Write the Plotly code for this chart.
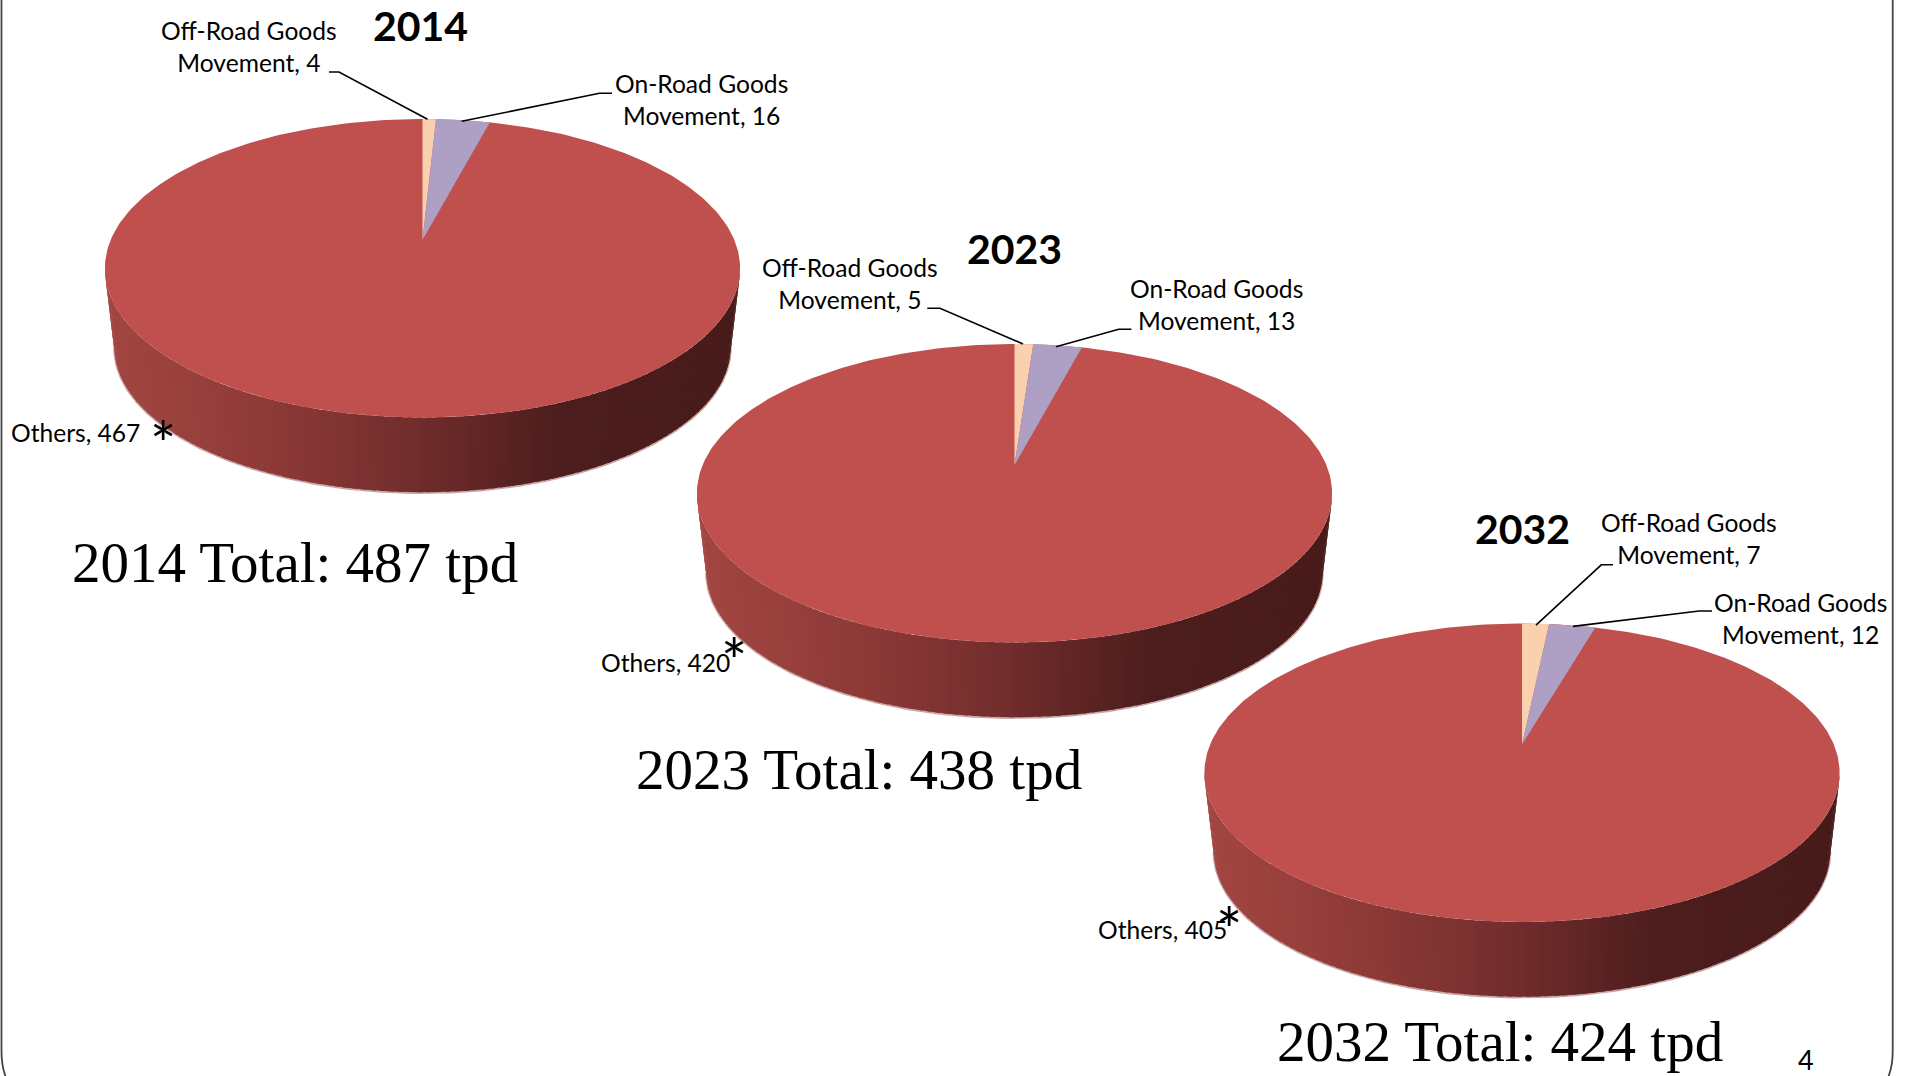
import numpy as np
import plotly.graph_objects as go

# ---- data ----
years = ["2014", "2023", "2032"]
totals = [487, 438, 424]
off_road = [4, 5, 7]
on_road = [16, 13, 12]
others = [467, 420, 405]

off_label = "Off-Road Goods<br>Movement, "
on_label = "On-Road Goods<br>Movement, "
others_label = "Others, "

# ---- colours ----
C_OTHERS = "#BF504D"
C_OFF = "#FAD0AE"
C_ON = "#AE9FC4"
C_RIM = "#C9A6A6"
SIDE_STOPS = [(0.0, (163, 70, 66)), (0.25, (142, 58, 55)), (0.5, (112, 44, 44)),
              (0.72, (76, 29, 29)), (1.0, (72, 27, 27))]

# ---- page-space layout of each pie ----
pies = [dict(cx=422.5, apex=240.0), dict(cx=1014.5, apex=465.0), dict(cx=1522.0, apex=744.5)]
UP, DOWN, HALF_W = 121.0, 177.5, 317.6   # apex-to-rim distances of the top face
DROP, SHRINK = 80.0, 0.97                # offset and scale of the lower rim

P = (DOWN - UP) / (DOWN + UP)
B = UP * (1 + P)
A = HALF_W * np.sqrt(1 - P * P)

SANS = "Lato"
SERIF = "Liberation Serif"


def rim(cx, apex, t, scale=1.0, drop=0.0):
    """Perspective projection of a point on the pie circle; t runs clockwise from 12 o'clock."""
    u, v = np.sin(t), np.cos(t)
    w = 1 + P * v
    return cx + scale * A * u / w, apex + drop - scale * B * v / w


def side_colour(q):
    q = float(np.clip(q, 0, 1))
    for (a, ca), (b, cb) in zip(SIDE_STOPS, SIDE_STOPS[1:]):
        if q <= b:
            f = (q - a) / (b - a)
            c = [round(x + (y - x) * f) for x, y in zip(ca, cb)]
            return f"rgb({c[0]},{c[1]},{c[2]})"
    return "rgb(72,27,27)"


fig = go.Figure()


def add_poly(xs, ys, colour, name):
    fig.add_trace(go.Scatter(x=list(xs), y=list(ys), mode="lines", fill="toself", fillcolor=colour,
                             line=dict(width=0, color=colour), hoverinfo="skip", name=name, showlegend=False))


def add_line(xs, ys, colour="#000000", width=1.6):
    fig.add_trace(go.Scatter(x=list(xs), y=list(ys), mode="lines", line=dict(color=colour, width=width),
                             hoverinfo="skip", showlegend=False))


def draw_pie(i):
    cx, apex = pies[i]["cx"], pies[i]["apex"]
    total = off_road[i] + on_road[i] + others[i]
    t0 = np.arccos(-P)
    # pale lower edge, under the wall
    ts = np.linspace(t0, 2 * np.pi - t0, 240)
    xb, yb = rim(cx, apex, ts, SHRINK, DROP)
    add_line(xb, yb + 0.6, C_RIM, 2.4)
    # side wall as shaded bands
    edges = np.linspace(t0, 2 * np.pi - t0, 111)
    left, right = cx - HALF_W, cx + HALF_W
    for a, b in zip(edges[:-1], edges[1:]):
        arc = np.linspace(a, b + (b - a) * 0.6, 4)
        xt, yt = rim(cx, apex, arc)
        xl, yl = rim(cx, apex, arc[::-1], SHRINK, DROP)
        q = (rim(cx, apex, (a + b) / 2)[0] - left) / (right - left)
        add_poly(np.r_[xt, xl], np.r_[yt, yl], side_colour(q), "side")
    # top face: others first, then the two wedges that start at 12 o'clock
    tt = np.linspace(0, 2 * np.pi, 361)
    add_poly(*rim(cx, apex, tt), C_OTHERS, "Others")
    a1 = 2 * np.pi * off_road[i] / total
    a2 = a1 + 2 * np.pi * on_road[i] / total
    for lo, hi, col, nm in ((0, a1, C_OFF, "Off-Road"), (a1, a2, C_ON, "On-Road")):
        xa, ya = rim(cx, apex, np.linspace(lo, hi, 16))
        add_poly(np.r_[cx, xa, cx], np.r_[apex, ya, apex], col, nm)


for i in range(3):
    draw_pie(i)

# ---- leader lines ----
leaders = [
    [(329, 72), (339, 72), (427.5, 119.3)], [(461.7, 121.3), (599.5, 93.3), (612, 93.3)],
    [(927.3, 308.3), (940, 308.3), (1023, 344)], [(1056, 346.7), (1118.7, 329.3), (1131.4, 329.3)],
    [(1536, 625.2), (1601.3, 564.8), (1613, 564.8)], [(1573, 626.4), (1699, 611), (1712, 611)],
]
for seg in leaders:
    add_line([p[0] for p in seg], [p[1] for p in seg])

# ---- text ----
annotations = []


def text(x, y, s, size, family=SANS, bold=False, xanchor="center", colour="#000000"):
    annotations.append(dict(x=x, y=y, xref="x", yref="y", text=f"<b>{s}</b>" if bold else s, showarrow=False,
                            xanchor=xanchor, yanchor="middle", align="center",
                            font=dict(family=family, size=size, color=colour)))


title_pos = [(420.6, 25), (1014, 248), (1522, 528)]
off_pos = [(249, 46), (850, 283), (1688.5, 538.5)]
on_pos = [(701, 99), (1216, 304), (1800, 618)]
oth_pos = [(9, 432), (598.5, 662), (1096, 929)]
star_pos = [(163, 443), (734, 660), (1229, 929)]
total_pos = [(295, 562), (859.4, 769), (1500, 1041)]

for i in range(3):
    text(*title_pos[i], years[i], 41, bold=True)
    text(*off_pos[i], f"{off_label}{off_road[i]}", 24.6)
    text(*on_pos[i], f"{on_label}{on_road[i]}", 24.6)
    text(*oth_pos[i], f"{others_label}{others[i]}", 24.6, xanchor="left")
    text(*star_pos[i], "*", 62)
    text(*total_pos[i], f"{years[i]} Total: {totals[i]} tpd", 57, family=SERIF)
text(1806, 1059, "4", 27)

# ---- slide frame ----
frame = ("M 1.5 0 L 1.5 1052 Q 1.5 1066 6 1078 M 1892.7 0 L 1892.7 1052 Q 1892.7 1066 1888 1078")

fig.update_layout(
    width=1906, height=1076, margin=dict(l=0, r=0, t=0, b=0),
    paper_bgcolor="#FFFFFF", plot_bgcolor="#FFFFFF", showlegend=False,
    xaxis=dict(range=[0, 1906], visible=False, fixedrange=True),
    yaxis=dict(range=[1076, 0], visible=False, fixedrange=True),
    annotations=annotations,
    shapes=[dict(type="path", path=frame, xref="x", yref="y", line=dict(color="#444444", width=1.8), layer="below")],
)

fig.write_html("out.html", config=dict(displayModeBar=False), post_script=
               "document.body.style.margin='0';document.documentElement.style.overflow='hidden';")
